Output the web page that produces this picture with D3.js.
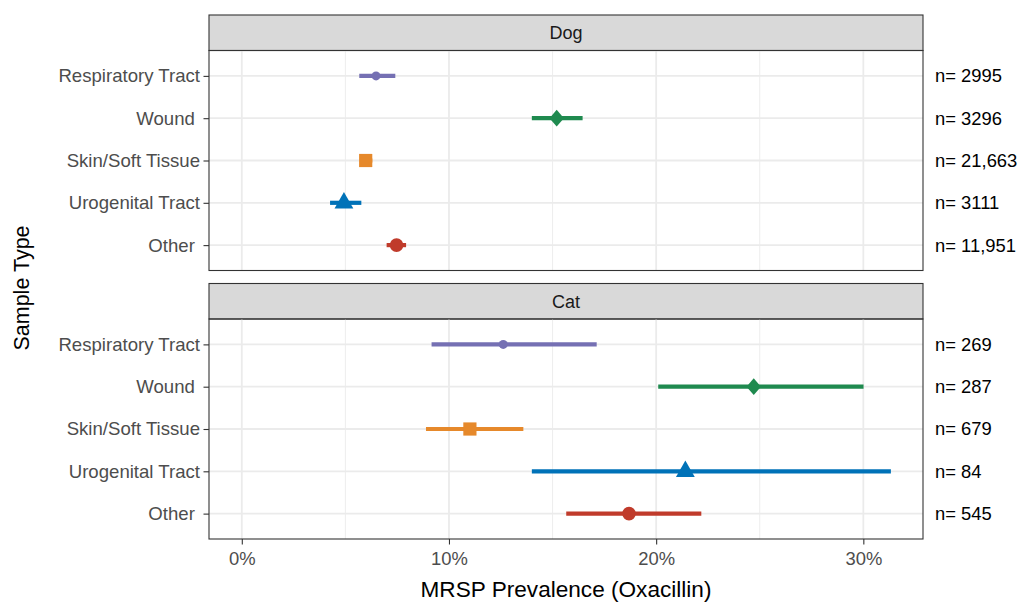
<!DOCTYPE html>
<html>
<head>
<meta charset="utf-8">
<script src="https://cdn.jsdelivr.net/npm/d3@7"></script>
<style>
    body { margin: 0; background: #fff; }
    svg { font-family: "Liberation Sans", Arial, Helvetica, sans-serif; }
</style>
</head>
<body>
<div id="chart"></div>
<script>
// values (percent)
const categories = ["Respiratory Tract", "Wound", "Skin/Soft Tissue", "Urogenital Tract", "Other"];
const species = ["Dog", "Cat"];
const dogEst  = [6.48, 15.20, 5.98, 4.93, 7.47];
const dogLow  = [5.67, 14.00, 5.70, 4.26, 6.99];
const dogHigh = [7.41, 16.45, 6.30, 5.77, 7.93];
const catEst  = [12.62, 24.71, 11.01, 21.41, 18.69];
const catLow  = [9.16, 20.10, 8.89, 14.00, 15.66];
const catHigh = [17.13, 30.01, 13.59, 31.33, 22.18];
const dogN = ["2995", "3296", "21,663", "3111", "11,951"];
const catN = ["269", "287", "679", "84", "545"];
const xTicks = [0, 10, 20, 30];
const xMinor = [5, 15, 25];

const colors = ["#7570B3", "#1F8A4F", "#E6892B", "#0072B8", "#C03B2B"];

// ggplot-ish point shapes, each drawn around (0,0)
const shapes = [
    "circleSmall", "diamond", "square", "triangle", "circle"
];

const width = 1021, height = 603;
const panelLeft = 209, panelRight = 923;
const stripH = 35.5, panelH = 220;
const panelTops = [50.5, 319];     // top of the panel area (below strip)

const svg = d3.select("#chart")
    .append("svg")
    .attr("width", width)
    .attr("height", height);

const x = d3.scaleLinear()
    .domain([-1.583, 32.88])
    .range([panelLeft, panelRight]);

function shapePath(kind) {
    const p = d3.path();
    if (kind === "diamond") {
        p.moveTo(0, -8.4); p.lineTo(7.2, 0); p.lineTo(0, 8.4); p.lineTo(-7.2, 0); p.closePath();
    } else if (kind === "square") {
        p.rect(-6.6, -6.6, 13.2, 13.2);
    } else if (kind === "triangle") {
        p.moveTo(0, -10.8); p.lineTo(9.4, 5.8); p.lineTo(-9.4, 5.8); p.closePath();
    } else if (kind === "circleSmall") {
        p.arc(0, 0, 4.5, 0, 2 * Math.PI);
    } else {
        p.arc(0, 0, 6.8, 0, 2 * Math.PI);
    }
    return p.toString();
}

species.forEach(function (sp, k) {
    const top = panelTops[k];
    const est = k === 0 ? dogEst : catEst;
    const low = k === 0 ? dogLow : catLow;
    const high = k === 0 ? dogHigh : catHigh;
    const nLab = k === 0 ? dogN : catN;

    const data = categories.map((c, i) => ({
        cat: c, est: est[i], low: low[i], high: high[i], n: nLab[i], color: colors[i], shape: shapes[i]
    }));

    const y = d3.scalePoint()
        .domain(categories)
        .range([top, top + panelH])
        .padding(0.6);

    const g = svg.append("g");

    // strip
    g.append("rect")
        .attr("x", panelLeft)
        .attr("y", top - stripH)
        .attr("width", panelRight - panelLeft)
        .attr("height", stripH)
        .attr("fill", "#D9D9D9")
        .attr("stroke", "#333333")
        .attr("stroke-width", 1.1);

    g.append("text")
        .attr("x", (panelLeft + panelRight) / 2)
        .attr("y", top - stripH / 2)
        .attr("dy", "0.35em")
        .attr("text-anchor", "middle")
        .attr("font-size", 18)
        .attr("fill", "#1A1A1A")
        .text(sp);

    // grid
    g.selectAll(".minor")
        .data(xMinor)
        .enter()
        .append("line")
        .attr("x1", d => x(d)).attr("x2", d => x(d))
        .attr("y1", top).attr("y2", top + panelH)
        .attr("stroke", "#EBEBEB")
        .attr("stroke-width", 0.9);

    g.selectAll(".major")
        .data(xTicks)
        .enter()
        .append("line")
        .attr("x1", d => x(d)).attr("x2", d => x(d))
        .attr("y1", top).attr("y2", top + panelH)
        .attr("stroke", "#EBEBEB")
        .attr("stroke-width", 1.8);

    g.selectAll(".hgrid")
        .data(categories)
        .enter()
        .append("line")
        .attr("x1", panelLeft).attr("x2", panelRight)
        .attr("y1", d => y(d)).attr("y2", d => y(d))
        .attr("stroke", "#EBEBEB")
        .attr("stroke-width", 1.8);

    // error bars
    g.selectAll(".ci")
        .data(data)
        .enter()
        .append("line")
        .attr("x1", d => x(d.low)).attr("x2", d => x(d.high))
        .attr("y1", d => y(d.cat)).attr("y2", d => y(d.cat))
        .attr("stroke", d => d.color)
        .attr("stroke-width", 4.2);

    // points
    g.selectAll(".pt")
        .data(data)
        .enter()
        .append("path")
        .attr("d", d => shapePath(d.shape))
        .attr("transform", d => `translate(${x(d.est)},${y(d.cat)})`)
        .attr("fill", d => d.color);

    // panel border
    g.append("rect")
        .attr("x", panelLeft)
        .attr("y", top)
        .attr("width", panelRight - panelLeft)
        .attr("height", panelH)
        .attr("fill", "none")
        .attr("stroke", "#333333")
        .attr("stroke-width", 1.1);

    // y axis
    const yAxis = g.append("g")
        .attr("transform", `translate(${panelLeft},0)`)
        .call(d3.axisLeft(y).tickSize(5.5).tickPadding(3.5));
    yAxis.select(".domain").remove();
    yAxis.selectAll("line").attr("stroke", "#333333").attr("stroke-width", 1.1);
    yAxis.selectAll("text")
        .attr("font-size", 18.6)
        .attr("font-family", null)
        .attr("fill", "#4D4D4D")
        .style("white-space", "pre")
        .text(d => (d === "Wound" || d === "Other") ? d + " " : d);

    // n labels
    g.selectAll(".nlab")
        .data(data)
        .enter()
        .append("text")
        .attr("x", 935)
        .attr("y", d => y(d.cat))
        .attr("dy", "0.35em")
        .attr("font-size", 18.4)
        .attr("fill", "#000")
        .text(d => "n= " + d.n);

    // x axis under the bottom panel
    if (k === species.length - 1) {
        const xAxis = g.append("g")
            .attr("transform", `translate(0,${top + panelH})`)
            .call(d3.axisBottom(x).tickValues(xTicks).tickFormat(d => d + "%").tickSize(5.5).tickPadding(7.5));
        xAxis.select(".domain").remove();
        xAxis.selectAll("line").attr("stroke", "#333333").attr("stroke-width", 1.1);
        xAxis.selectAll("text")
            .attr("font-size", 18.4)
            .attr("font-family", null)
            .attr("fill", "#4D4D4D");
    }
});

// axis titles
svg.append("text")
    .attr("x", (panelLeft + panelRight) / 2)
    .attr("y", 597)
    .attr("text-anchor", "middle")
    .attr("font-size", 22.6)
    .attr("fill", "#000")
    .text("MRSP Prevalence (Oxacillin)");

svg.append("text")
    .attr("transform", `translate(29,${288}) rotate(-90)`)
    .attr("text-anchor", "middle")
    .attr("font-size", 21.5)
    .attr("fill", "#000")
    .text("Sample Type");
</script>
</body>
</html>
